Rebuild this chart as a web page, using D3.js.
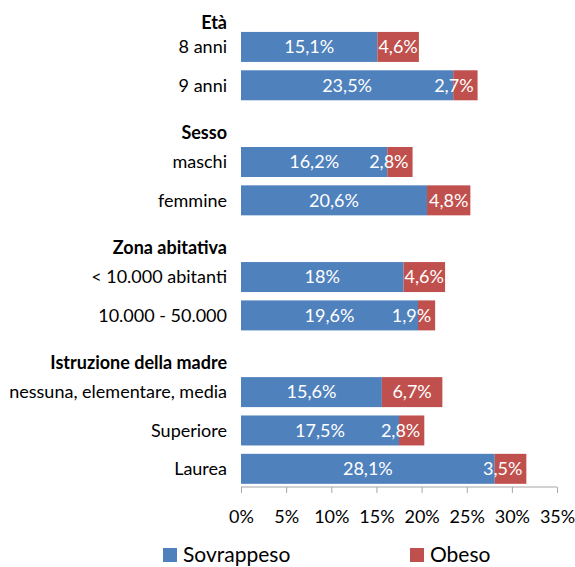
<!DOCTYPE html>
<html>
<head>
<meta charset="utf-8">
<script src="https://cdn.jsdelivr.net/npm/d3@7"></script>
<style>
  body { margin: 0; background: #fff; }
  text { font-family: Lato, "Open Sans", sans-serif; }
</style>
</head>
<body>
<div id="chart"></div>
<script>
/* Sovrappeso / obesità per caratteristiche - barre orizzontali impilate */

const groupNames = ["Età", "Sesso", "Zona abitativa", "Istruzione della madre"];
const categories = ["8 anni", "9 anni", "maschi", "femmine", "< 10.000 abitanti",
                    "10.000 - 50.000", "nessuna, elementare, media", "Superiore", "Laurea"];
const categoryGroup = [0, 0, 1, 1, 2, 2, 3, 3, 3];
const sovrappeso = [15.1, 23.5, 16.2, 20.6, 18, 19.6, 15.6, 17.5, 28.1];
const obeso = [4.6, 2.7, 2.8, 4.8, 4.6, 1.9, 6.7, 2.8, 3.5];
const xTicks = [0, 5, 10, 15, 20, 25, 30, 35];
const seriesNames = ["Sovrappeso", "Obeso"];

const width = 575,
      height = 567,
      margin = ({ top: -10.6, right: 18, bottom: 79, left: 241 });

const colors = ["#4F81BD", "#C0504D"];

// rows: a header slot for every group, then its categories
let rows = [];
groupNames.forEach((g, gi) => {
    rows.push({ key: "h" + gi, type: "header", label: g });
    categories.forEach((c, i) => {
        if (categoryGroup[i] === gi) {
            rows.push({ key: "c" + i, type: "cat", label: c, s: sovrappeso[i], o: obeso[i] });
        }
    });
});

let svg = d3.select("#chart")
    .append("svg")
    .attr("width", width)
    .attr("height", height);

let x = d3.scaleLinear()
    .domain([0, 35])
    .range([margin.left, margin.left + 35 * 9.03]);

let y = d3.scaleBand()
    .domain(rows.map(d => d.key))
    .range([margin.top, height - margin.bottom])
    .paddingInner(0.218)
    .paddingOuter(0.109);

const fmt = v => String(v).replace(".", ",") + "%";

// x axis: grey line with ticks hanging down
const axisY = height - margin.bottom - 1;
let xAxis = svg.append("g")
    .attr("transform", `translate(0,${axisY})`)
    .call(d3.axisBottom(x).tickValues(xTicks).tickSize(6).tickPadding(17).tickFormat(d => d + "%"));

xAxis.select(".domain").attr("stroke", "#a6a6a6").attr("d", `M${x(0)},0H${x(35)}`);
xAxis.selectAll(".tick line").attr("stroke", "#a6a6a6");
xAxis.selectAll(".tick text")
    .attr("fill", "#000")
    .style("font-size", "18px");

let cats = rows.filter(d => d.type === "cat");

let bar = svg.selectAll(".bar")
    .data(cats)
    .join("g")
    .attr("class", "bar");

bar.append("rect")
    .attr("fill", colors[0])
    .attr("x", x(0))
    .attr("y", d => y(d.key))
    .attr("width", d => x(d.s) - x(0))
    .attr("height", y.bandwidth());

bar.append("rect")
    .attr("fill", colors[1])
    .attr("x", d => x(d.s))
    .attr("y", d => y(d.key))
    .attr("width", d => x(d.s + d.o) - x(d.s))
    .attr("height", y.bandwidth());

bar.append("text")
    .text(d => fmt(d.s))
    .attr("x", d => (x(0) + x(d.s)) / 2)
    .attr("y", d => y(d.key) + y.bandwidth() / 2)
    .attr("dy", "0.35em")
    .attr("text-anchor", "middle")
    .style("fill", "white")
    .style("font-size", "18px");

// obeso labels: centred, but pulled left when wider than the small red segment
bar.append("text")
    .text(d => fmt(d.o))
    .attr("y", d => y(d.key) + y.bandwidth() / 2)
    .attr("dy", "0.35em")
    .attr("text-anchor", "middle")
    .style("fill", "white")
    .style("font-size", "18px")
    .attr("x", function(d) {
        let w = this.getComputedTextLength();
        let segW = x(d.s + d.o) - x(d.s);
        let mid = (x(d.s) + x(d.s + d.o)) / 2;
        return w > segW ? x(d.s + d.o) - 4 - w / 2 : mid;
    });

// category and group labels on the left
svg.selectAll(".label")
    .data(rows)
    .join("text")
    .attr("class", "label")
    .text(d => d.label)
    .attr("x", 227)
    .attr("y", d => y(d.key) + y.bandwidth() / 2 + (d.type === "header" ? (d.key === "h0" ? 14 : 9) : 0))
    .attr("dy", "0.35em")
    .attr("text-anchor", "end")
    .style("font-weight", d => d.type === "header" ? "bold" : "normal")
    .style("font-size", "18px")
    .style("fill", "#000");

// legend
const legendX = [163, 410];
let legend = svg.selectAll(".legend")
    .data(seriesNames)
    .join("g")
    .attr("class", "legend")
    .attr("transform", (d, i) => `translate(${legendX[i]},548)`);

legend.append("rect")
    .attr("width", 14)
    .attr("height", 14)
    .attr("fill", (d, i) => colors[i]);

legend.append("text")
    .text(d => d)
    .attr("x", 20)
    .attr("y", 14)
    .style("font-size", "21px")
    .style("fill", "#000");
</script>
</body>
</html>
